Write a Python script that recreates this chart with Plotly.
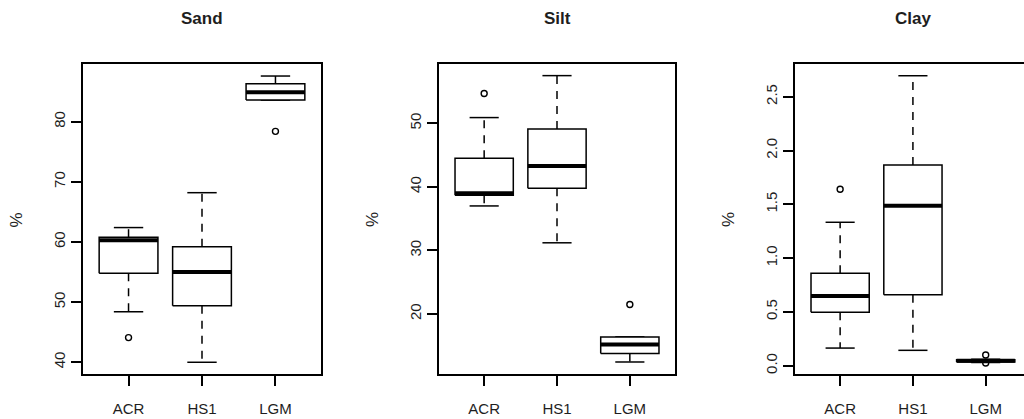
import plotly.graph_objects as go

W, H = 1024, 419

groups = ["ACR", "HS1", "LGM"]
titles = ["Sand", "Silt", "Clay"]

# Sand
sand_q1 = [54.8, 49.4, 83.6]
sand_med = [60.3, 55.0, 84.9]
sand_q3 = [60.8, 59.2, 86.3]
sand_lo = [48.4, 40.0, 83.6]
sand_hi = [62.4, 68.2, 87.6]
sand_out = [[44.1], [], [78.4]]
sand_ticks = [40, 50, 60, 70, 80]

# Silt
silt_q1 = [38.7, 39.8, 13.8]
silt_med = [39.0, 43.3, 15.2]
silt_q3 = [44.5, 49.1, 16.4]
silt_lo = [37.0, 31.2, 12.45]
silt_hi = [50.9, 57.5, 16.4]
silt_out = [[54.7], [], [21.5]]
silt_ticks = [20, 30, 40, 50]

# Clay
clay_q1 = [0.496, 0.66, 0.035]
clay_med = [0.648, 1.487, 0.045]
clay_q3 = [0.859, 1.865, 0.055]
clay_lo = [0.164, 0.143, 0.03]
clay_hi = [1.333, 2.695, 0.06]
clay_out = [[1.64], [], [0.10, 0.025]]
clay_ticks = [0.0, 0.5, 1.0, 1.5, 2.0, 2.5]
clay_ticktext = ["0.0", "0.5", "1.0", "1.5", "2.0", "2.5"]

panels = [
    dict(q1=sand_q1, med=sand_med, q3=sand_q3, lo=sand_lo, hi=sand_hi, out=sand_out,
         ticks=sand_ticks, ticktext=[str(t) for t in sand_ticks],
         yr=[38.05, 89.6], px=(83, 321), xr=[0.38, 3.62], mirror_y=True),
    dict(q1=silt_q1, med=silt_med, q3=silt_q3, lo=silt_lo, hi=silt_hi, out=silt_out,
         ticks=silt_ticks, ticktext=[str(t) for t in silt_ticks],
         yr=[10.56, 59.33], px=(439, 675), xr=[0.38, 3.62], mirror_y=True),
    dict(q1=clay_q1, med=clay_med, q3=clay_q3, lo=clay_lo, hi=clay_hi, out=clay_out,
         ticks=clay_ticks, ticktext=clay_ticktext,
         yr=[-0.077, 2.804], px=(795, 1024), xr=[0.38, 3.526], mirror_y=False),
]

FONT = "Liberation Sans, Arial, Helvetica, sans-serif"
TXT = "#1e1e1e"
LW = 1.5
top_px, bot_px = 64, 374
ydom = [1 - bot_px / H, 1 - top_px / H]

fig = go.Figure()
layout = dict(width=W, height=H, margin=dict(l=0, r=0, t=0, b=0),
              paper_bgcolor="white", plot_bgcolor="white", showlegend=False,
              font=dict(family=FONT, color=TXT))
annotations = []

for k, p in enumerate(panels):
    xa = "x" if k == 0 else f"x{k+1}"
    ya = "y" if k == 0 else f"y{k+1}"
    for i, g in enumerate(groups):
        xc = i + 1
        # whiskers (dashed)
        fig.add_trace(go.Scatter(
            x=[xc, xc, None, xc, xc],
            y=[p["q3"][i], p["hi"][i], None, p["q1"][i], p["lo"][i]],
            mode="lines", line=dict(color="black", width=LW, dash="8px,7px"),
            xaxis=xa, yaxis=ya, hoverinfo="skip"))
        # staples
        fig.add_trace(go.Scatter(
            x=[xc - 0.2, xc + 0.2, None, xc - 0.2, xc + 0.2],
            y=[p["hi"][i], p["hi"][i], None, p["lo"][i], p["lo"][i]],
            mode="lines", line=dict(color="black", width=LW),
            xaxis=xa, yaxis=ya, hoverinfo="skip"))
        # box
        fig.add_trace(go.Scatter(
            x=[xc - 0.4, xc + 0.4, xc + 0.4, xc - 0.4, xc - 0.4],
            y=[p["q1"][i], p["q1"][i], p["q3"][i], p["q3"][i], p["q1"][i]],
            mode="lines", fill="toself", fillcolor="white",
            line=dict(color="black", width=LW),
            xaxis=xa, yaxis=ya, name=g))
        # median
        fig.add_trace(go.Scatter(
            x=[xc - 0.4, xc + 0.4], y=[p["med"][i], p["med"][i]],
            mode="lines", line=dict(color="black", width=4),
            xaxis=xa, yaxis=ya, hoverinfo="skip"))
        # outliers
        if p["out"][i]:
            fig.add_trace(go.Scatter(
                x=[xc] * len(p["out"][i]), y=p["out"][i], mode="markers",
                marker=dict(symbol="circle-open", size=6, color="black",
                            line=dict(width=1.4)),
                xaxis=xa, yaxis=ya))

    xdom = [p["px"][0] / W, min(p["px"][1] / W, 1.0)]
    axkey_x = "xaxis" if k == 0 else f"xaxis{k+1}"
    axkey_y = "yaxis" if k == 0 else f"yaxis{k+1}"
    layout[axkey_x] = dict(
        domain=xdom, range=p["xr"], anchor=ya,
        tickmode="array", tickvals=[1, 2, 3], ticktext=groups,
        ticks="outside", ticklen=10, tickwidth=LW, tickcolor="black",
        showline=True, linecolor="black", linewidth=LW, mirror=True,
        showgrid=False, zeroline=False, fixedrange=True,
        tickfont=dict(size=15, family=FONT, color=TXT), ticklabelstandoff=10)
    layout[axkey_y] = dict(
        domain=ydom, range=p["yr"], anchor=xa,
        tickmode="array", tickvals=p["ticks"], ticktext=p["ticktext"],
        ticks="outside", ticklen=10, tickwidth=LW, tickcolor="black",
        tickangle=-90,
        showline=True, linecolor="black", linewidth=LW, mirror=p["mirror_y"],
        showgrid=False, zeroline=False, fixedrange=True,
        tickfont=dict(size=15, family=FONT, color=TXT), ticklabelstandoff=0)

    cx = (p["px"][0] + (p["px"][0] + (p["px"][1] - p["px"][0]) * 3.24 / (p["xr"][1] - p["xr"][0]))) / 2
    annotations.append(dict(text=f"<b>{titles[k]}</b>", xref="paper", yref="paper",
                            x=cx / W, y=1 - 18 / H, xanchor="center", yanchor="middle",
                            showarrow=False, font=dict(size=17, family=FONT, color=TXT)))

for xpx in [15.5, 372, 728]:
    annotations.append(dict(text="%", xref="paper", yref="paper",
                            x=xpx / W, y=1 - 220 / H, xanchor="center", yanchor="middle",
                            textangle=-90, showarrow=False,
                            font=dict(size=17, family=FONT, color=TXT)))

layout["annotations"] = annotations
fig.update_layout(**layout)
fig.write_html("out.html", config={"displayModeBar": False})
